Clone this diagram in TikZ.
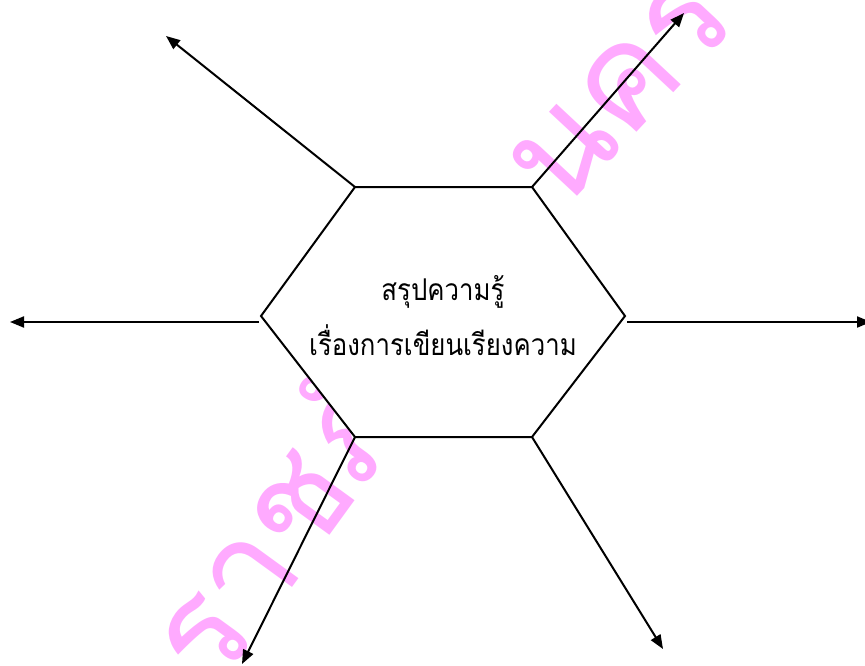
\documentclass[tikz,border=0pt]{standalone}
\usepackage{fontspec}
\usetikzlibrary{arrows.meta}
\newfontfamily\thaifont[Script=Thai]{Loma}
\begin{document}
\begin{tikzpicture}[x=1pt,y=-1pt,
  conn/.style={line width=2pt,-{Triangle[length=14pt,width=11pt]}},
  hexline/.style={line width=2pt,fill=white},
  wmark/.style={text=wm,font=\thaifont\fontsize{140}{140}\selectfont,inner sep=0pt},
  label/.style={font=\thaifont\fontsize{30}{55}\selectfont,align=center,xscale=0.86}]
\definecolor{wm}{RGB}{255,170,255}
\useasboundingbox (0,0) rectangle (865,666);
\clip (0,0) rectangle (865,666);
% watermark
\node[wmark,rotate=54,anchor=base west] (wm1) at (216,692) {ราชภัฏ};
\node[wmark,rotate=47,anchor=base west] (wm2) at (560,215) {นคร};
% hexagon vertices
\coordinate (tl) at (355,187);
\coordinate (tr) at (532,187);
\coordinate (r) at (625,316);
\coordinate (br) at (532,437);
\coordinate (bl) at (355,437);
\coordinate (l) at (261,316);
\draw[hexline] (tl) -- (tr) -- (r) -- (br) -- (bl) -- (l) -- cycle;
\node[label] (txt) at (443,316) {สรุปความรู้\\เรื่องการเขียนเรียงความ};
% arrow ends
\coordinate (lS) at (259,322);
\coordinate (rS) at (627,322);
\coordinate (eTL) at (166,36);
\coordinate (eTR) at (684,13);
\coordinate (eL) at (10,322);
\coordinate (eR) at (871,322);
\coordinate (eBL) at (242,664);
\coordinate (eBR) at (663,649);
\draw[conn] (tl) -- (eTL);
\draw[conn] (tr) -- (eTR);
\draw[conn] (lS) -- (eL);
\draw[conn] (rS) -- (eR);
\draw[conn] (bl) -- (eBL);
\draw[conn] (br) -- (eBR);
\end{tikzpicture}
\end{document}
